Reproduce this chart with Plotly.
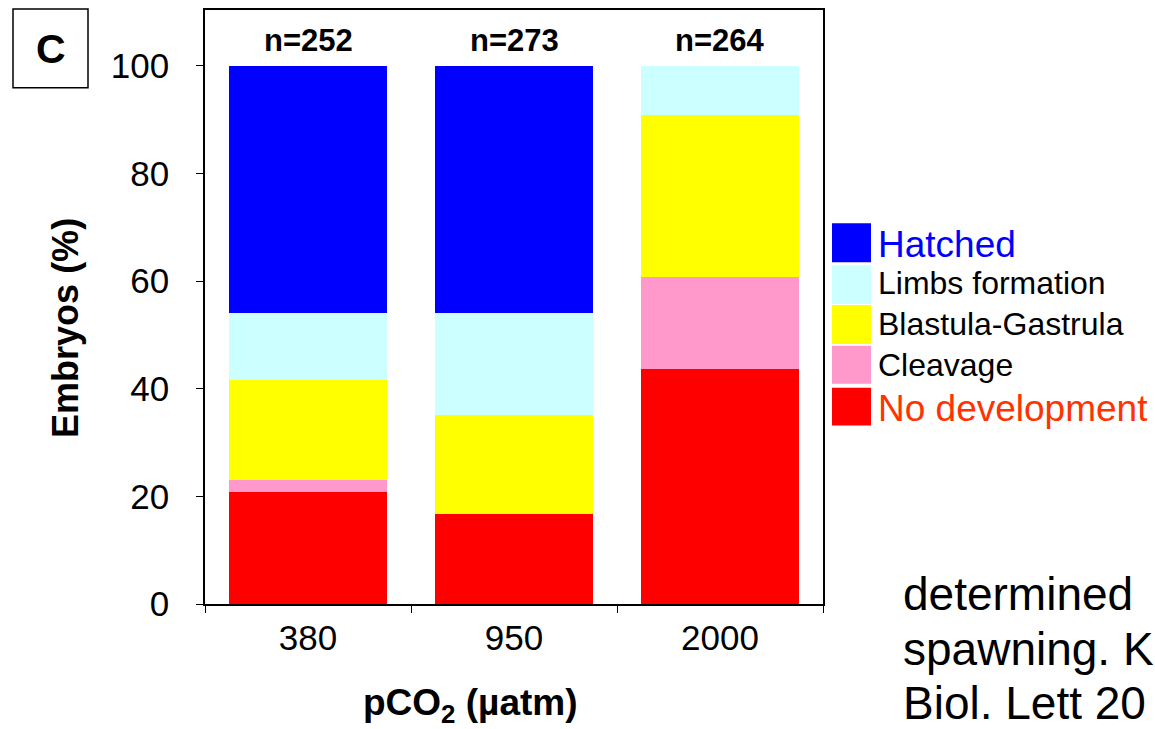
import plotly.graph_objects as go

# ---- data ----
categories = ["380", "950", "2000"]
no_development = [20.9, 16.8, 43.6]
cleavage = [2.2, 0.0, 17.2]
blastula_gastrula = [18.5, 18.3, 30.1]
limbs_formation = [12.4, 18.9, 9.0]
hatched = [46.0, 46.0, 0.0]
n_counts = [252, 273, 264]
y_ticks = [0, 20, 40, 60, 80, 100]

series = [
    ("No development", no_development, "#FF0000"),
    ("Cleavage", cleavage, "#FF99CC"),
    ("Blastula-Gastrula", blastula_gastrula, "#FFFF00"),
    ("Limbs formation", limbs_formation, "#CCFFFF"),
    ("Hatched", hatched, "#0000FF"),
]

FONT = "Arial, Liberation Sans, sans-serif"
W, H = 1155, 729
L, R, T, B = 205, 823, 8, 604  # plot area in pixels


def px(x):
    return (x - L) / (R - L)


def py(y):
    return (B - y) / (B - T)


fig = go.Figure()
for name, vals, col in series:
    fig.add_trace(go.Bar(x=categories, y=vals, name=name, marker=dict(color=col, line=dict(width=0)),
                         showlegend=False))

annotations = []
# n labels (category index positions)
for i, n in enumerate(n_counts):
    annotations.append(dict(x=i, y=104.8, xref="x", yref="y", text=f"<b>n={n}</b>", showarrow=False,
                            font=dict(family=FONT, size=31, color="black"), xanchor="center",
                            yanchor="middle"))

# axis titles
annotations.append(dict(x=px(470), y=py(705), xref="paper", yref="paper",
                        text="<b>pCO<sub>2</sub> (µatm)</b>", showarrow=False,
                        font=dict(family=FONT, size=37, color="black"), xanchor="center", yanchor="middle"))
annotations.append(dict(x=px(66), y=py(327), xref="paper", yref="paper",
                        text="<b>Embryos (%)</b>", showarrow=False, textangle=-90,
                        font=dict(family=FONT, size=36, color="black"), xanchor="center", yanchor="middle"))

# panel label
annotations.append(dict(x=px(50.5), y=py(47), xref="paper", yref="paper", text="<b>C</b>", showarrow=False,
                        font=dict(family=FONT, size=41, color="black"), xanchor="center", yanchor="middle"))

shapes = [dict(type="rect", xref="paper", yref="paper", x0=px(13), x1=px(88), y0=py(86), y1=py(7),
               line=dict(color="black", width=1.5), fillcolor="rgba(0,0,0,0)")]

# legend (manual, large swatches)
legend_items = [
    ("Hatched", "#0000FF", "#0000FF", 37, 222, 261, 243),
    ("Limbs formation", "#CCFFFF", "black", 32, 264, 303, 282),
    ("Blastula-Gastrula", "#FFFF00", "black", 32, 304, 343, 323),
    ("Cleavage", "#FF99CC", "black", 32, 345, 383, 364),
    ("No development", "#FF0000", "#FF3300", 37, 387, 425, 408),
]
for name, fill, tcol, fs, y0, y1, ty in legend_items:
    shapes.append(dict(type="rect", xref="paper", yref="paper", x0=px(832), x1=px(871), y0=py(y1), y1=py(y0),
                       line=dict(width=0), fillcolor=fill))
    annotations.append(dict(x=px(876), y=py(ty), xref="paper", yref="paper", text=name, showarrow=False,
                            font=dict(family=FONT, size=fs, color=tcol), xanchor="left", yanchor="middle"))

# caption fragment at bottom right
for txt, yy in [("determined", 594), ("spawning. K", 649), ("Biol. Lett 20", 703)]:
    annotations.append(dict(x=px(901), y=py(yy), xref="paper", yref="paper", text=txt, showarrow=False,
                            font=dict(family=FONT, size=46, color="black"), xanchor="left", yanchor="middle"))

fig.update_layout(
    width=W, height=H,
    margin=dict(l=L, r=W - R, t=T, b=H - B, pad=0),
    barmode="stack", bargap=0.23,
    plot_bgcolor="white", paper_bgcolor="white",
    font=dict(family=FONT, color="black"),
    annotations=annotations, shapes=shapes,
    xaxis=dict(type="category", range=[-0.5, 2.5], showline=True, linecolor="black", linewidth=1.5,
               mirror=True, ticks="outside", tickson="boundaries", ticklen=7, tickcolor="black", tickwidth=1,
               tickfont=dict(family=FONT, size=35, color="black"), showgrid=False, zeroline=False,
               ticklabelstandoff=2),
    yaxis=dict(range=[0, 110.4], showline=True, linecolor="black", linewidth=1.5, mirror=True,
               ticks="outside", ticklen=7, tickcolor="black", tickwidth=1, tickvals=y_ticks,
               tickfont=dict(family=FONT, size=35, color="black"), showgrid=False, zeroline=False,
               ticklabelstandoff=20),
)

fig.write_html("out.html")
